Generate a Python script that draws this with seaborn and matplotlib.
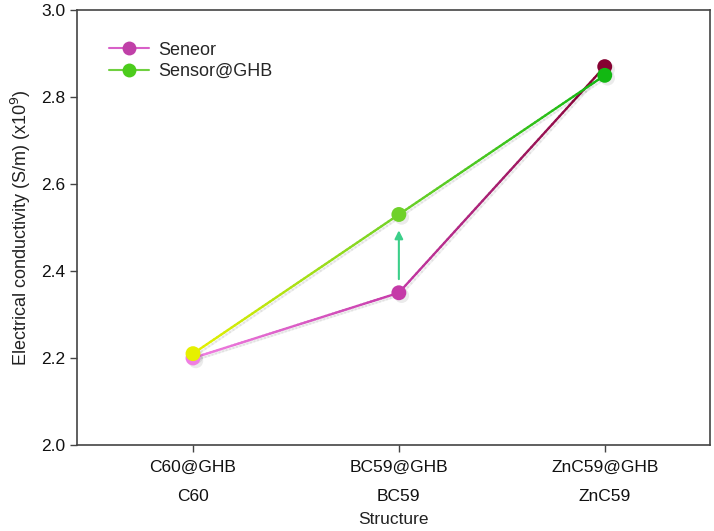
import numpy as np
import pandas as pd
import matplotlib
matplotlib.use("Agg")
import matplotlib.pyplot as plt
import matplotlib.patheffects as pe
from matplotlib.collections import LineCollection
from matplotlib.colors import LinearSegmentedColormap
from matplotlib.lines import Line2D
import seaborn as sns

# data
structures = ["C60", "BC59", "ZnC59"]
tick_labels = ["C60@GHB\nC60", "BC59@GHB\nBC59", "ZnC59@GHB\nZnC59"]
seneor = [2.20, 2.35, 2.87]
sensor_ghb = [2.21, 2.53, 2.85]

seneor_colors = ["#f07fe2", "#c53aa8", "#860232"]
ghb_colors = ["#e6f000", "#6fd12a", "#12b812"]

sns.set_style("ticks")
plt.rcParams["font.family"] = ["Liberation Sans", "DejaVu Sans"]

fig = plt.figure(figsize=(7.14, 5.31), dpi=100)
ax = fig.add_axes([0.108, 0.162, 0.886, 0.819])

x = np.arange(len(structures))


def gradient_line(ys, colors, zorder):
    # split each segment in small pieces so the colour can fade along it
    cmap = LinearSegmentedColormap.from_list("g", colors)
    xs_f, ys_f = [], []
    for i in range(len(ys) - 1):
        t = np.linspace(0, 1, 60)
        xs_f.extend(x[i] + t * (x[i + 1] - x[i]))
        ys_f.extend(ys[i] + t * (ys[i + 1] - ys[i]))
    pts = np.array([xs_f, ys_f]).T.reshape(-1, 1, 2)
    segs = np.concatenate([pts[:-1], pts[1:]], axis=1)
    lc = LineCollection(segs, cmap=cmap, linewidth=1.7, zorder=zorder, capstyle="round")
    lc.set_array(np.linspace(0, 1, len(segs)))
    lc.set_path_effects([pe.SimpleLineShadow(offset=(1.5, -1.5), alpha=0.06, shadow_color="k"), pe.Normal()])
    ax.add_collection(lc)


gradient_line(seneor, seneor_colors, 2)
gradient_line(sensor_ghb, ghb_colors, 3)

df = pd.DataFrame({
    "x": np.concatenate([x, x]),
    "y": seneor + sensor_ghb,
    "pt": [f"s{i}" for i in range(3)] + [f"g{i}" for i in range(3)],
})
pal = dict(zip(df["pt"], seneor_colors + ghb_colors))
sns.scatterplot(data=df, x="x", y="y", hue="pt", palette=pal, s=115,
                edgecolor="none", legend=False, ax=ax, zorder=4)
ax.collections[-1].set_path_effects([
    pe.SimplePatchShadow(offset=(2, -2), shadow_rgbFace="k", alpha=0.08), pe.Normal()])

# arrow at BC59
ax.annotate("", xy=(x[1], sensor_ghb[1] - 0.03), xytext=(x[1], seneor[1] + 0.025),
            arrowprops=dict(arrowstyle="-|>", color="#3ccf8a", lw=1.5, mutation_scale=12),
            zorder=3)

ax.set_xlim(-0.563, 2.51)
ax.set_ylim(2.0, 3.0)
ax.set_yticks(np.arange(2.0, 3.01, 0.2))
ax.set_yticklabels([f"{v:.1f}" for v in np.arange(2.0, 3.01, 0.2)])
ax.set_xticks(x)
ax.set_xticklabels(tick_labels)
for t in ax.get_xticklabels():
    t.set_linespacing(2.15)
ax.tick_params(labelsize=12.5, labelcolor="#111111", color="#444444", length=5, width=1)
ax.tick_params(axis="x", pad=6)
ax.set_xlabel("Structure", fontsize=12.5, labelpad=6, color="#222222")
ax.set_ylabel("Electrical conductivity (S/m) (x10$^9$)", fontsize=13, labelpad=6, color="#222222")

for s in ax.spines.values():
    s.set_color("#444444")
    s.set_linewidth(1.2)

handles = [
    Line2D([], [], color="#d860c8", marker="o", markersize=10, markerfacecolor="#c040a8",
           markeredgecolor="none", lw=1.5),
    Line2D([], [], color="#70d040", marker="o", markersize=10, markerfacecolor="#4ccc1c",
           markeredgecolor="none", lw=1.5),
]
ax.legend(handles, ["Seneor", "Sensor@GHB"], loc="upper left", bbox_to_anchor=(0.025, 0.965),
          frameon=False, fontsize=13, handlelength=2.2, handletextpad=0.5, labelspacing=0.25)

fig.savefig("out.png", dpi=100)
